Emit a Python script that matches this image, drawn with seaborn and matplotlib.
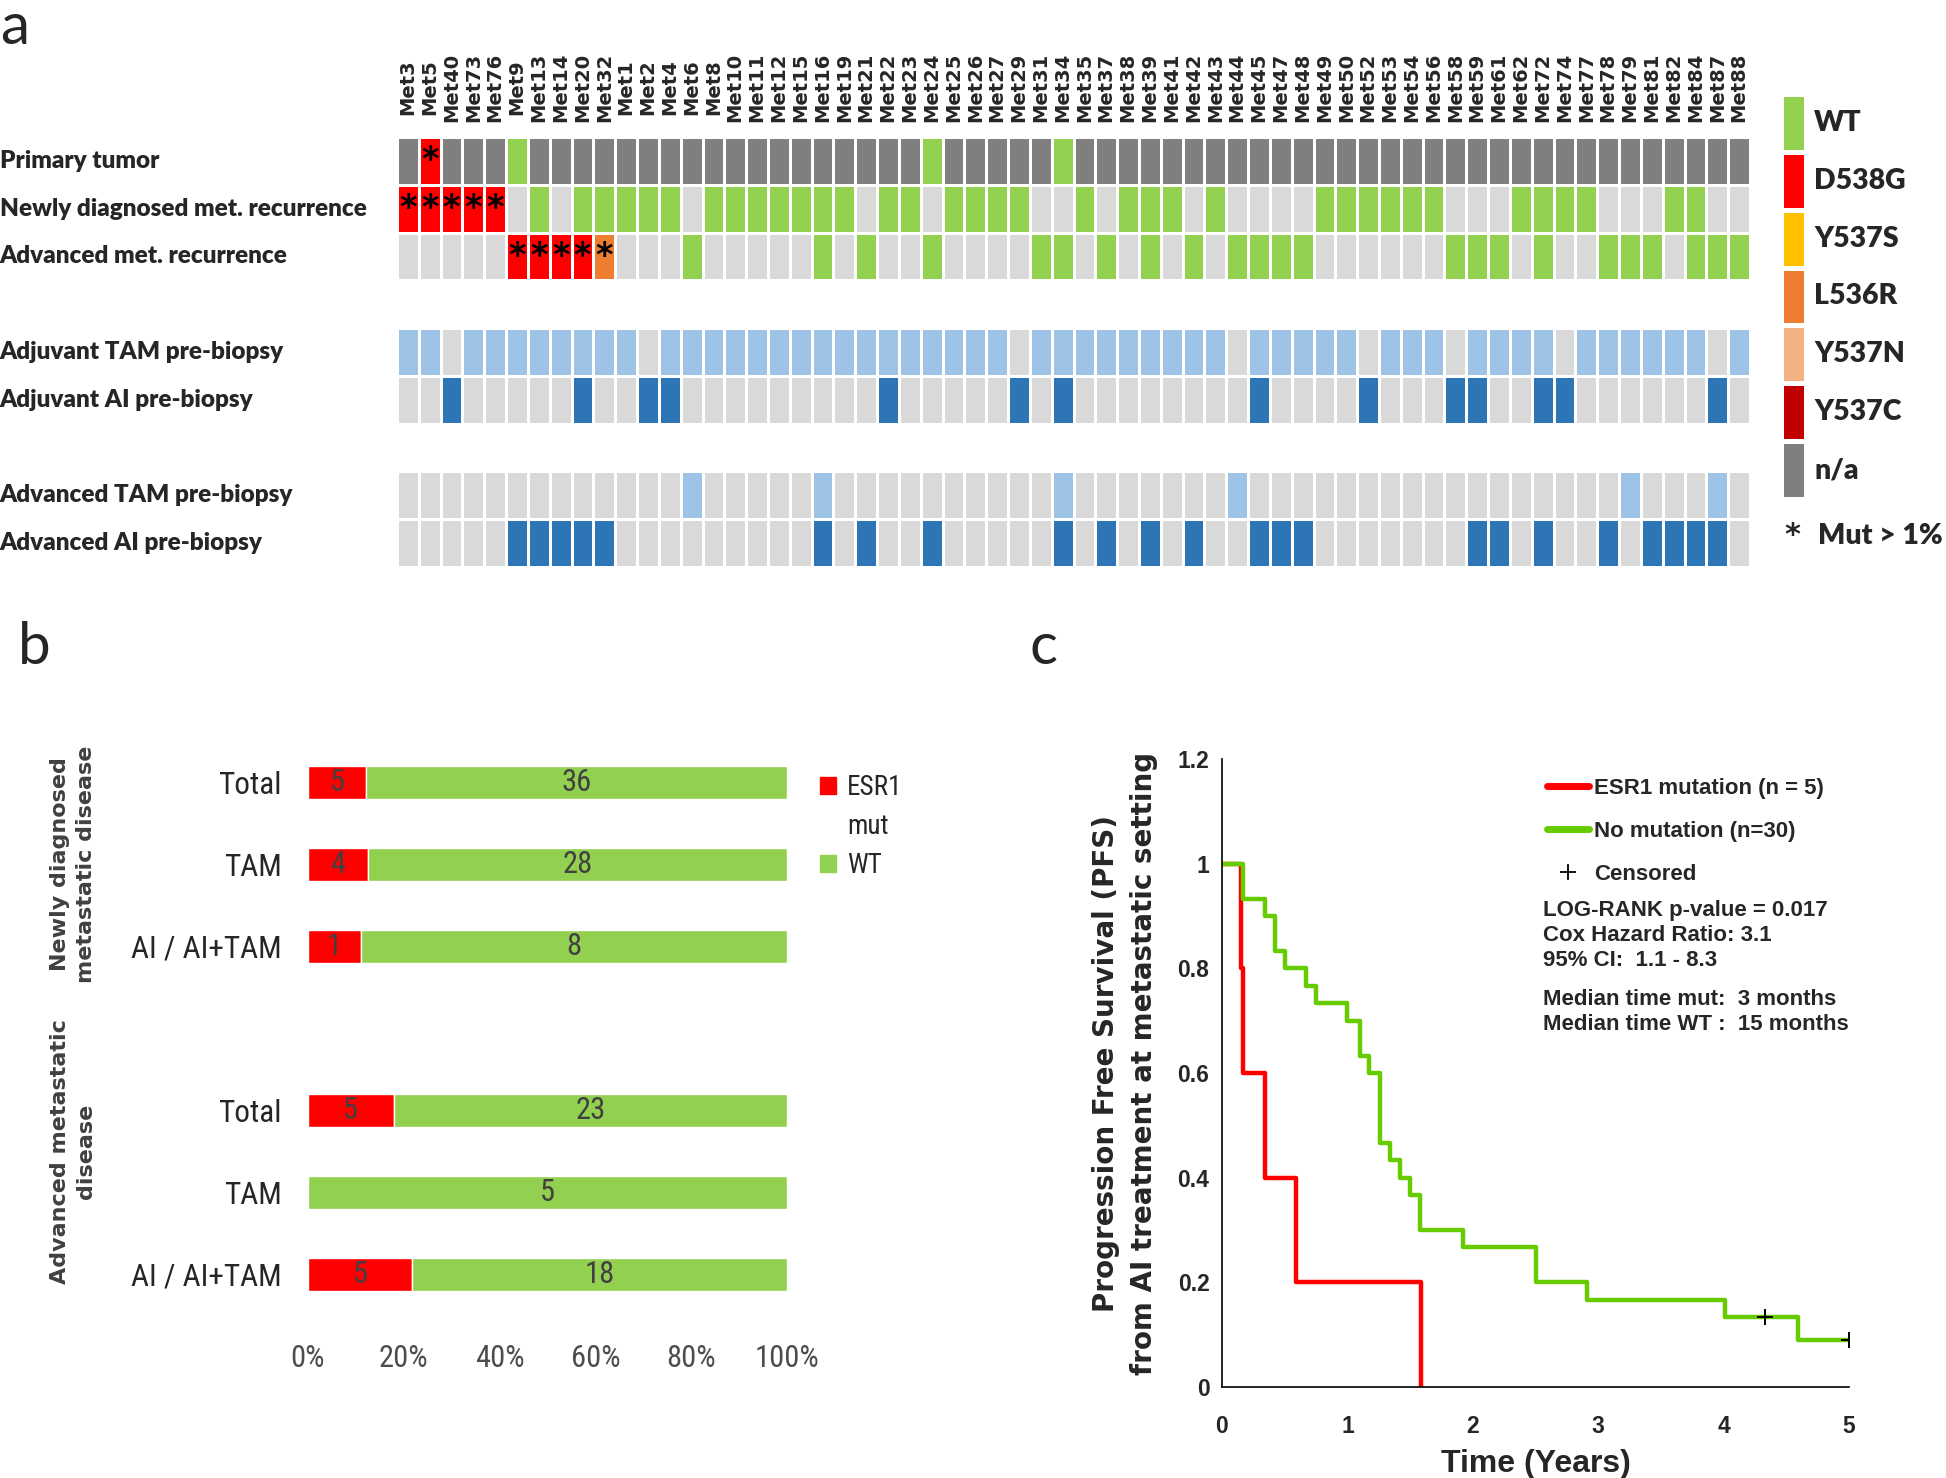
import numpy as np
import pandas as pd
import matplotlib
matplotlib.use('Agg')
import matplotlib.pyplot as plt
import matplotlib.transforms as mtransforms
import seaborn as sns
from matplotlib import font_manager
from matplotlib.colors import ListedColormap
from matplotlib.lines import Line2D
from matplotlib.patches import Patch

# ---------------- data ----------------
samples = ['Met3', 'Met5', 'Met40', 'Met73', 'Met76', 'Met9', 'Met13', 'Met14', 'Met20', 'Met32',
           'Met1', 'Met2', 'Met4', 'Met6', 'Met8', 'Met10', 'Met11', 'Met12', 'Met15', 'Met16',
           'Met19', 'Met21', 'Met22', 'Met23', 'Met24', 'Met25', 'Met26', 'Met27', 'Met29', 'Met31',
           'Met34', 'Met35', 'Met37', 'Met38', 'Met39', 'Met41', 'Met42', 'Met43', 'Met44', 'Met45',
           'Met47', 'Met48', 'Met49', 'Met50', 'Met52', 'Met53', 'Met54', 'Met56', 'Met58', 'Met59',
           'Met61', 'Met62', 'Met72', 'Met74', 'Met77', 'Met78', 'Met79', 'Met81', 'Met82', 'Met84',
           'Met87', 'Met88']

# mutation status per biopsy (mutations listed all have Mut > 1%, marked with *)
primary_mut = {'Met5': 'D538G'}
primary_wt = ['Met9', 'Met24', 'Met34']          # everything else n/a
newly_mut = {'Met3': 'D538G', 'Met5': 'D538G', 'Met40': 'D538G', 'Met73': 'D538G', 'Met76': 'D538G'}
newly_wt = ['Met13', 'Met20', 'Met32', 'Met1', 'Met2', 'Met4', 'Met8', 'Met10', 'Met11', 'Met12',
            'Met15', 'Met16', 'Met19', 'Met22', 'Met23', 'Met25', 'Met26', 'Met27', 'Met29', 'Met35',
            'Met38', 'Met39', 'Met41', 'Met43', 'Met49', 'Met50', 'Met52', 'Met53', 'Met54', 'Met56',
            'Met62', 'Met72', 'Met74', 'Met77', 'Met82', 'Met84']
advanced_mut = {'Met9': 'D538G', 'Met13': 'D538G', 'Met14': 'D538G', 'Met20': 'D538G', 'Met32': 'L536R'}
advanced_wt = ['Met6', 'Met16', 'Met21', 'Met24', 'Met31', 'Met34', 'Met37', 'Met39', 'Met42', 'Met44',
               'Met45', 'Met47', 'Met48', 'Met58', 'Met59', 'Met61', 'Met72', 'Met78', 'Met79', 'Met81',
               'Met84', 'Met87', 'Met88']

# treatment before biopsy
adj_tam_missing = ['Met40', 'Met2', 'Met29', 'Met44', 'Met52', 'Met58', 'Met74', 'Met87']
adj_tam = [s for s in samples if s not in adj_tam_missing]
adj_ai = ['Met40', 'Met20', 'Met2', 'Met4', 'Met22', 'Met29', 'Met34', 'Met45', 'Met52', 'Met58',
          'Met59', 'Met72', 'Met74', 'Met87']
adv_tam = ['Met6', 'Met16', 'Met34', 'Met44', 'Met79', 'Met87']
adv_ai = ['Met9', 'Met13', 'Met14', 'Met20', 'Met32', 'Met16', 'Met21', 'Met24', 'Met34', 'Met37',
          'Met39', 'Met42', 'Met45', 'Met47', 'Met48', 'Met59', 'Met61', 'Met72', 'Met78', 'Met81',
          'Met82', 'Met84', 'Met87']

row_names = ['Primary tumor', 'Newly diagnosed met. recurrence', 'Advanced met. recurrence', '',
             'Adjuvant TAM pre-biopsy', 'Adjuvant AI pre-biopsy', '',
             'Advanced TAM pre-biopsy', 'Advanced AI pre-biopsy']

status_colors = {'WT': '#92D050', 'D538G': '#FF0000', 'Y537S': '#FFC000', 'L536R': '#ED7D31',
                 'Y537N': '#F4B183', 'Y537C': '#C00000', 'n/a': '#7F7F7F', 'none': '#D9D9D9',
                 'TAM': '#9DC3E6', 'AI': '#2E75B6'}
legend_keys = ['WT', 'D538G', 'Y537S', 'L536R', 'Y537N', 'Y537C', 'n/a']

# panel b
bar_groups = ['Newly diagnosed\nmetastatic disease', 'Advanced metastatic\ndisease']
bar_labels = ['Total', 'TAM', 'AI / AI+TAM', 'Total', 'TAM', 'AI / AI+TAM']
mut_counts = np.array([5, 4, 1, 5, 0, 5])
wt_counts = np.array([36, 28, 8, 23, 5, 18])

# panel c (Kaplan-Meier, years / survival fraction)
esr1_time = [0, 0.15, 0.17, 0.34, 0.59, 1.59]
esr1_surv = [1.0, 0.8, 0.6, 0.4, 0.2, 0.0]
wt_time = [0, 0.17, 0.34, 0.42, 0.50, 0.67, 0.75, 1.00, 1.10, 1.17, 1.26, 1.34, 1.42, 1.50,
           1.58, 1.92, 2.50, 2.91, 4.01, 4.59, 5.0]
wt_surv = [1.0, 0.933, 0.9, 0.833, 0.8, 0.767, 0.733, 0.7, 0.633, 0.6, 0.467, 0.433, 0.4, 0.367,
           0.3, 0.267, 0.2, 0.167, 0.133, 0.089, 0.089]
cens_time = [4.33, 5.0]
cens_surv = [0.133, 0.089]

# ---------------- fonts ----------------
sns.set_style('white')
installed = {f.name for f in font_manager.fontManager.ttflist}
def pick(*names):
    for n in names:
        if n in installed:
            return n
    return 'DejaVu Sans'
HUMAN = pick('Lato', 'Open Sans')
ARIAL = pick('Liberation Sans', 'Roboto')
NARROW = pick('Liberation Sans Narrow', 'Roboto Condensed')
narrow_scale = 1.0 if NARROW != 'DejaVu Sans' else 0.8
if NARROW == 'DejaVu Sans':
    NARROW = ARIAL
plt.rcParams['font.family'] = [HUMAN, 'DejaVu Sans']

W, H = 1946, 1478
fig = plt.figure(figsize=(W / 100, H / 100), dpi=100)
def box(x0, y0, x1, y1):
    return [x0 / W, 1 - y1 / H, (x1 - x0) / W, (y1 - y0) / H]

# ---------------- panel a ----------------
code = {k: i for i, k in enumerate(status_colors)}
cmap = ListedColormap(list(status_colors.values()))

def mutation_row(wt, mut, default):
    return [code[mut.get(s, 'WT' if s in wt else default)] for s in samples]

def treat_row(given, kind):
    return [code[kind] if s in given else code['none'] for s in samples]

gap = [np.nan] * len(samples)
grid = pd.DataFrame([mutation_row(primary_wt, primary_mut, 'n/a'),
                     mutation_row(newly_wt, newly_mut, 'none'),
                     mutation_row(advanced_wt, advanced_mut, 'none'),
                     gap,
                     treat_row(adj_tam, 'TAM'), treat_row(adj_ai, 'AI'),
                     gap,
                     treat_row(adv_tam, 'TAM'), treat_row(adv_ai, 'AI')],
                    columns=samples)
stars = np.full(grid.shape, '', dtype=object)
for r, mut in enumerate([primary_mut, newly_mut, advanced_mut]):
    for s in mut:
        stars[r, samples.index(s)] = '*'

ax_a = fig.add_axes(box(397, 137, 1750, 567))
sns.heatmap(grid, ax=ax_a, cmap=cmap, vmin=-0.5, vmax=len(code) - 0.5, cbar=False,
            linewidths=2, linecolor='white', mask=grid.isna(),
            annot=stars, fmt='', annot_kws={'color': 'black', 'fontsize': 24, 'fontweight': 'bold',
                                            'family': 'DejaVu Sans'})
ax_a.xaxis.tick_top()
ax_a.set_xticks(np.arange(len(samples)) + 0.5)
ax_a.set_xticklabels(samples, rotation=90, ha='center', va='center')
for lab in ax_a.get_xticklabels():
    lab.set_fontfamily('DejaVu Sans')
    lab.set_fontweight('bold')
    lab.set_fontsize(14)
ax_a.tick_params(axis='x', length=0, pad=36)
keep = [i for i, n in enumerate(row_names) if n]
ax_a.set_yticks(np.array(keep) + 0.5)
ax_a.set_yticklabels([row_names[i] for i in keep], rotation=0, ha='left', fontweight='heavy', fontsize=17.5)
ax_a.tick_params(axis='y', length=0, pad=286)

# legend column
ax_l = fig.add_axes(box(1781, 94, 1806, 499))
leg = pd.DataFrame({'c': [code[k] for k in legend_keys]}, index=legend_keys)
sns.heatmap(leg, ax=ax_l, cmap=cmap, vmin=-0.5, vmax=len(code) - 0.5, cbar=False,
            linewidths=2.5, linecolor='white')
ax_l.yaxis.tick_right()
ax_l.set_yticklabels(legend_keys, rotation=0, ha='left', va='center', fontweight='heavy', fontsize=20.5)
ax_l.set_xticks([])
ax_l.tick_params(axis='y', length=0, pad=6)
fig.text(1784 / W, 1 - 536 / H, '*', fontsize=22, fontweight='bold', va='center',
         family='DejaVu Sans')
fig.text(1818 / W, 1 - 536 / H, 'Mut > 1%', fontsize=20.5, fontweight='heavy', va='center')

fig.text(0.0, 0.999, 'a', fontsize=42, va='top', ha='left')

# ---------------- panel b ----------------
pos = np.array([0, 1, 2, 4, 5, 6])
frac = mut_counts / (mut_counts + wt_counts)
ax_b = fig.add_axes(box(308, 733, 787, 1336))
red_bars = ax_b.barh(pos, frac, height=0.4, color='#FF0000')
green_bars = ax_b.barh(pos, 1 - frac, left=frac, height=0.4, color='#92D050')
ax_b.bar_label(red_bars, labels=[str(m) if m else '' for m in mut_counts], label_type='center',
               color='#404040', fontsize=22 * narrow_scale, family=NARROW)
ax_b.bar_label(green_bars, labels=[str(w) for w in wt_counts], label_type='center',
               color='#404040', fontsize=22 * narrow_scale, family=NARROW)
ax_b.set_xlim(0, 1)
ax_b.set_ylim(6.75, -0.6)
ax_b.set_xticks(np.linspace(0, 1, 6))
ax_b.set_xticklabels([f'{int(v * 100)}%' for v in np.linspace(0, 1, 6)], color='#4d4d4d',
                     fontsize=22 * narrow_scale, family=NARROW)
ax_b.set_yticks(pos)
ax_b.set_yticklabels(bar_labels, color='#262626', fontsize=22.5 * narrow_scale, family=NARROW)
ax_b.tick_params(axis='y', length=0, pad=19)
ax_b.tick_params(axis='x', length=0, pad=6)
sns.despine(ax=ax_b, left=True, bottom=True)
trans = mtransforms.blended_transform_factory(fig.transFigure, ax_b.transData)
for g, lab in enumerate(bar_groups):
    yc = pos[g * 3:(g + 1) * 3].mean() - (0.5 if g == 1 else 0)
    ax_b.text(73 / W, yc, lab, rotation=90, ha='center', va='center', transform=trans,
              family='DejaVu Sans', fontweight='bold', fontsize=16, color='#404040',
              linespacing=1.35)
# "ESR1 mut" wraps onto a second line with the square beside the first line only
lg = ax_b.legend(handles=[Patch(color='#FF0000', label='ESR1'),
                          Patch(color='none', label='mut'),
                          Patch(color='#92D050', label='WT')],
                 loc='upper left', bbox_to_anchor=(1.04, 0.955), frameon=False, borderpad=0,
                 handlelength=0.6, handleheight=0.6, handletextpad=0.4, labelspacing=0.45,
                 prop={'family': NARROW, 'size': 19.5 * narrow_scale})
fig.text(18 / W, 1 - 648 / H, 'b', fontsize=42, va='center', ha='left')

# ---------------- panel c ----------------
ax_c = fig.add_axes(box(1222, 759, 1849, 1387))
sns.lineplot(x=esr1_time, y=esr1_surv, ax=ax_c, drawstyle='steps-post', color='#FF0000',
             lw=3.2, legend=False)
sns.lineplot(x=wt_time, y=wt_surv, ax=ax_c, drawstyle='steps-post', color='#66CC00',
             lw=3.2, legend=False)
sns.scatterplot(x=cens_time, y=cens_surv, ax=ax_c, marker='+', color='black', s=130,
                linewidth=1.4, zorder=5, legend=False)
ax_c.set_xlim(0, 5)
ax_c.set_ylim(0, 1.2)
ax_c.set_xticks(range(6))
ax_c.set_yticks(np.arange(0, 1.21, 0.2))
ax_c.set_yticklabels(['0', '0.2', '0.4', '0.6', '0.8', '1', '1.2'])
for lab in ax_c.get_xticklabels() + ax_c.get_yticklabels():
    lab.set_fontweight('bold')
    lab.set_family(ARIAL)
    lab.set_fontsize(16.5)
ax_c.tick_params(axis='x', direction='in', length=6, width=1, pad=20)
ax_c.tick_params(axis='y', direction='in', length=6, width=1, pad=9)
sns.despine(ax=ax_c)
for sp in ['left', 'bottom']:
    ax_c.spines[sp].set_linewidth(1.2)
    ax_c.spines[sp].set_color('black')
ax_c.set_xlabel('Time (Years)', fontsize=23, fontweight='bold', family=ARIAL, labelpad=8)
ax_c.set_ylabel('Progression Free Survival (PFS)\nfrom AI treatment at metastatic setting',
                fontsize=20, fontweight='bold', family='DejaVu Sans', color='#262626',
                linespacing=1.45)
ax_c.yaxis.set_label_coords(-0.102, 0.515)

handles = [Line2D([], [], color='#FF0000', lw=5), Line2D([], [], color='#66CC00', lw=5),
           Line2D([], [], color='black', marker='+', ls='none', markersize=11, mew=1.3)]
ax_c.legend(handles, ['ESR1 mutation (n = 5)', 'No mutation (n=30)', 'Censored'],
            loc='upper left', bbox_to_anchor=(0.5, 0.988), frameon=False, borderpad=0,
            handlelength=1.9, handletextpad=0.25, labelspacing=1.0,
            prop={'family': ARIAL, 'weight': 'bold', 'size': 16})
ax_c.text(0.512, 0.775, 'LOG-RANK p-value = 0.017\nCox Hazard Ratio: 3.1\n95% CI:  1.1 - 8.3',
          transform=ax_c.transAxes, va='top', ha='left', fontsize=16, fontweight='bold',
          family=ARIAL, linespacing=1.25)
ax_c.text(0.512, 0.633, 'Median time mut:  3 months\nMedian time WT :  15 months',
          transform=ax_c.transAxes, va='top', ha='left', fontsize=16, fontweight='bold',
          family=ARIAL, linespacing=1.25)
fig.text(1030 / W, 1 - 648 / H, 'c', fontsize=42, va='center', ha='left')

fig.savefig('out.png', dpi=100)
